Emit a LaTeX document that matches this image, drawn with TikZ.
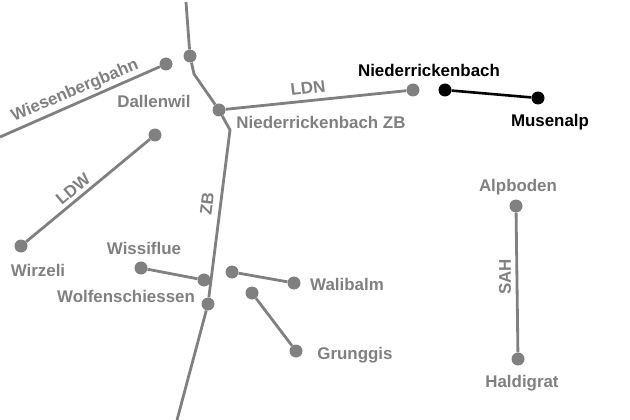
\documentclass[tikz,border=0pt]{standalone}
\usepackage{fontspec}
\setmainfont{Liberation Sans}
\definecolor{linegray}{gray}{0.5}
\tikzset{
  stopdot/.style={circle,fill=linegray,inner sep=0pt,minimum size=13pt},
  stopblack/.style={circle,fill=black,inner sep=0pt,minimum size=13pt},
  route/.style={draw=linegray,line width=2.8pt},
  routeblack/.style={draw=black,line width=2.6pt},
  placegray/.style={text=linegray,font=\bfseries\fontsize{16.9}{19}\selectfont,inner sep=0pt},
  placeblack/.style={text=black,font=\bfseries\fontsize{16.9}{19}\selectfont,inner sep=0pt}
}
\begin{document}
\begin{tikzpicture}[x=1pt,y=-1pt]
\useasboundingbox (0,0) rectangle (630,420);

\coordinate (zbtop) at (186,2);
\coordinate (zbbendA) at (194,74);
\coordinate (zbbendB) at (230,130);
\coordinate (zbend) at (177,420);
\coordinate (wbend) at (0,137);

\node[stopdot] (dallenwil) at (190,56) {};
\node[stopdot] (wiesenberg) at (166,64) {};
\node[stopdot] (nzb) at (219,110) {};
\node[stopdot] (ldntop) at (413,90) {};
\node[stopdot] (ldwtop) at (155,135) {};
\node[stopdot] (wirzeli) at (21,246) {};
\node[stopdot] (wissiflue) at (141,268) {};
\node[stopdot] (wissibot) at (204,280) {};
\node[stopdot] (wolfen) at (208,304) {};
\node[stopdot] (walibot) at (232,272) {};
\node[stopdot] (walibalm) at (294,283) {};
\node[stopdot] (grubot) at (252,293) {};
\node[stopdot] (grunggis) at (296,351) {};
\node[stopdot] (alpboden) at (516,206) {};
\node[stopdot] (haldigrat) at (518,359) {};
\node[stopblack] (nrb) at (445,90) {};
\node[stopblack] (musenalp) at (538,98) {};

\draw[route] (zbtop) -- (dallenwil) -- (zbbendA) -- (nzb) -- (zbbendB) -- (wolfen) -- (zbend);
\draw[route] (wbend) -- (wiesenberg);
\draw[route] (nzb) -- (ldntop);
\draw[route] (ldwtop) -- (wirzeli);
\draw[route] (wissiflue) -- (wissibot);
\draw[route] (walibot) -- (walibalm);
\draw[route] (grubot) -- (grunggis);
\draw[route] (alpboden) -- (haldigrat);
\draw[routeblack] (nrb) -- (musenalp);

\node[placegray] (lbldallenwil) at (154,101) {Dallenwil};
\node[placegray,rotate=23] (lblwiesenberg) at (75,91) {Wiesenbergbahn};
\node[placegray,rotate=7] (lblldn) at (308,88) {LDN};
\node[placegray] (lblnzb) at (321,122) {Niederrickenbach ZB};
\node[placegray,rotate=40] (lblldw) at (73,189) {LDW};
\node[placegray,rotate=83] (lblzb) at (207,204) {ZB};
\node[placegray] (lblwirzeli) at (38,270) {Wirzeli};
\node[placegray] (lblwissiflue) at (144,248) {Wissiflue};
\node[placegray] (lblwolfen) at (126,296) {Wolfenschiessen};
\node[placegray] (lblwalibalm) at (347,284) {Walibalm};
\node[placegray] (lblgrunggis) at (355,355) {Grunggis};
\node[placegray] (lblalpboden) at (518,187) {Alpboden};
\node[placegray,rotate=90] (lblsah) at (505,277) {SAH};
\node[placegray] (lblhaldigrat) at (522,383) {Haldigrat};
\node[placeblack] (lblnrb) at (429,70) {Niederrickenbach};
\node[placeblack] (lblmusenalp) at (550,122) {Musenalp};

\end{tikzpicture}
\end{document}
